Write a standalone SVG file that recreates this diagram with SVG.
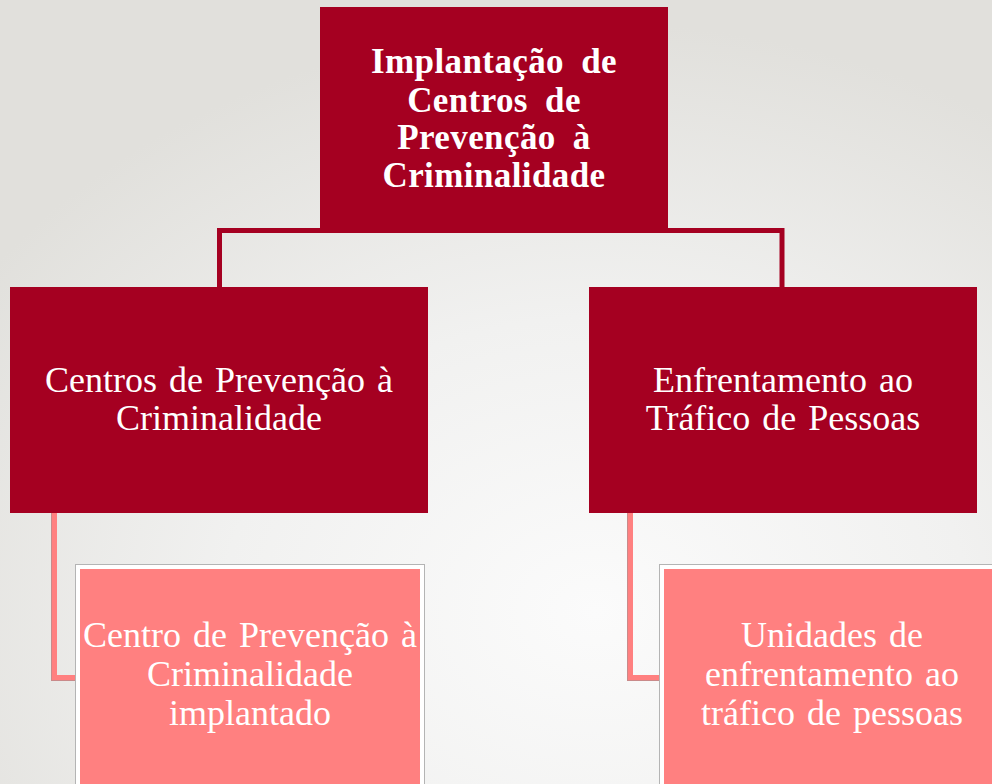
<svg xmlns="http://www.w3.org/2000/svg" width="992" height="784" viewBox="0 0 992 784">
  <defs>
    <radialGradient id="bg" cx="0.6" cy="0.78" r="0.75">
      <stop offset="0" stop-color="#fbfbfb"/>
      <stop offset="0.5" stop-color="#f1f1f0"/>
      <stop offset="1" stop-color="#e1e0dc"/>
    </radialGradient>
  </defs>
  <style>
    .dark { fill: #A50021; }
    .pink { fill: #FF8080; }
    .frame { fill: #ffffff; stroke: #b4b4b4; stroke-width: 1; }
    .t { font-family: "Liberation Serif", "Times New Roman", serif; fill: #ffffff; text-anchor: middle; }
    .tb { font-size: 35px; font-weight: bold; letter-spacing: 0.4px; word-spacing: 8px; }
    .tr { font-size: 36px; word-spacing: 3px; }
    .c1 { fill: none; stroke: #A50021; stroke-width: 5; }
    .c2 { fill: none; stroke: #FF8080; stroke-width: 5; }
    .c2s { fill: none; stroke: #c98a8a; stroke-width: 5; }
  </style>
  <rect x="0" y="0" width="992" height="784" fill="url(#bg)"/>

  <g id="connectors">
    <path class="c1" d="M219.5 288 V230.5 H782 V288"/>
    <path class="c2s" d="M53.5 513 V678.5 H78"/>
    <path class="c2" d="M54.5 513 V677.5 H78"/>
    <path class="c2s" d="M629.5 513 V678.5 H660"/>
    <path class="c2" d="M630.5 513 V677.5 H660"/>
  </g>

  <g id="node-root">
    <rect class="dark" x="320" y="7" width="348" height="225"/>
    <text class="t tb" x="494" y="73">Implantação de</text>
    <text class="t tb" x="494" y="112">Centros de</text>
    <text class="t tb" x="494" y="149">Prevenção à</text>
    <text class="t tb" x="494" y="187">Criminalidade</text>
  </g>

  <g id="node-left">
    <rect class="dark" x="10" y="287" width="418" height="226"/>
    <text class="t tr" x="219" y="392">Centros de Prevenção à</text>
    <text class="t tr" x="219" y="430">Criminalidade</text>
  </g>

  <g id="node-right">
    <rect class="dark" x="589" y="287" width="388" height="226"/>
    <text class="t tr" x="783" y="392">Enfrentamento ao</text>
    <text class="t tr" x="783" y="430">Tráfico de Pessoas</text>
  </g>

  <g id="node-left-child">
    <rect class="frame" x="75.5" y="564.5" width="349" height="230"/>
    <rect class="pink" x="80" y="569" width="340" height="220"/>
    <text class="t tr" x="250" y="647">Centro de Prevenção à</text>
    <text class="t tr" x="250" y="686">Criminalidade</text>
    <text class="t tr" x="250" y="725">implantado</text>
  </g>

  <g id="node-right-child">
    <rect class="frame" x="659.5" y="564.5" width="349" height="230"/>
    <rect class="pink" x="664" y="569" width="340" height="220"/>
    <text class="t tr" x="832" y="647">Unidades de</text>
    <text class="t tr" x="832" y="686">enfrentamento ao</text>
    <text class="t tr" x="832" y="725">tráfico de pessoas</text>
  </g>
</svg>
